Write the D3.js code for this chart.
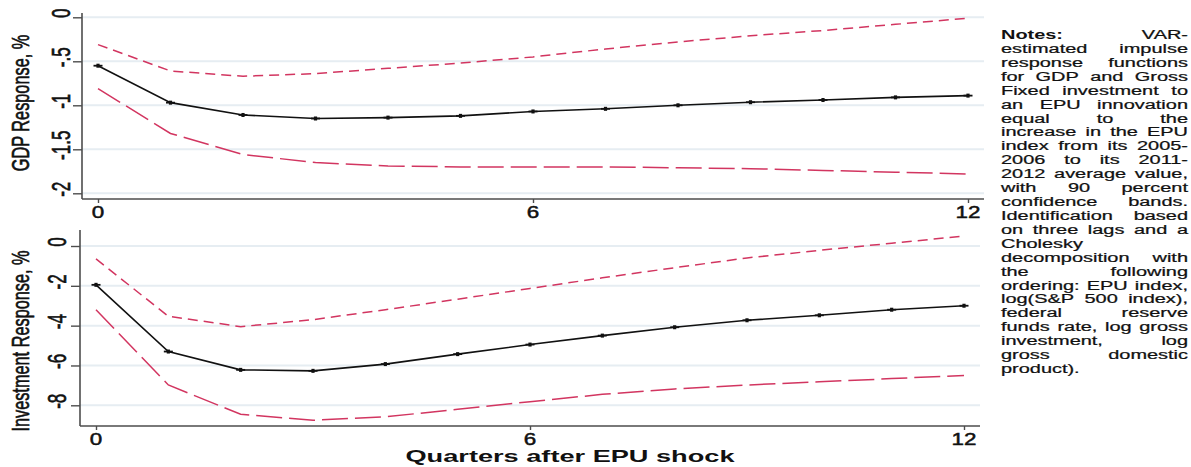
<!DOCTYPE html>
<html>
<head>
<meta charset="utf-8">
<script src="https://cdn.jsdelivr.net/npm/d3@7"></script>
<style>
  body { margin: 0; background: #fff; }
  svg { display: block; }
  text { font-family: "Liberation Sans", Arial, sans-serif; fill: #111; }
  .heavy { stroke: #111; stroke-width: 0.45; }
</style>
</head>
<body>
<svg id="chart" width="1191" height="467"></svg>
<script>
// Impulse responses to an EPU shock, quarters 0..12
const quarters = [0, 1, 2, 3, 4, 5, 6, 7, 8, 9, 10, 11, 12];

const gdpIrf   = [-0.55, -0.97, -1.11, -1.15, -1.14, -1.12, -1.07, -1.04, -1.00, -0.965, -0.94, -0.91, -0.89];
const gdpUpper = [-0.31, -0.61, -0.67, -0.64, -0.58, -0.52, -0.45, -0.36, -0.28, -0.21, -0.15, -0.08, -0.01];
const gdpLower = [-0.81, -1.32, -1.56, -1.65, -1.69, -1.70, -1.70, -1.70, -1.71, -1.72, -1.74, -1.76, -1.78];

const invIrf   = [-1.95, -5.30, -6.22, -6.27, -5.93, -5.43, -4.95, -4.50, -4.08, -3.73, -3.48, -3.20, -3.00];
const invUpper = [-0.65, -3.53, -4.05, -3.70, -3.20, -2.67, -2.13, -1.60, -1.09, -0.60, -0.22, 0.14, 0.50];
const invLower = [-3.20, -6.98, -8.45, -8.75, -8.58, -8.20, -7.82, -7.45, -7.18, -6.98, -6.82, -6.66, -6.50];

const xTickValues = [0, 6, 12];
const xTickLabels = ["0", "6", "12"];
const gdpTickValues = [0, -0.5, -1, -1.5, -2];
const gdpTickLabels = ["0", "-.5", "-1", "-1.5", "-2"];
const invTickValues = [0, -2, -4, -6, -8];
const invTickLabels = ["0", "-2", "-4", "-6", "-8"];

const gdpTitle = "GDP Response, %";
const invTitle = "Investment Response, %";
const xTitle = "Quarters after EPU shock";

const notesLines = [
  "Notes: VAR-",
  "estimated impulse",
  "response functions",
  "for GDP and Gross",
  "Fixed investment to",
  "an EPU innovation",
  "equal to the",
  "increase in the EPU",
  "index from its 2005-",
  "2006 to its 2011-",
  "2012 average value,",
  "with 90 percent",
  "confidence bands.",
  "Identification based",
  "on three lags and a",
  "Cholesky",
  "decomposition with",
  "the following",
  "ordering: EPU index,",
  "log(S&P 500 index),",
  "federal reserve",
  "funds rate, log gross",
  "investment, log",
  "gross domestic",
  "product)."
];

const svg = d3.select("#chart");
const BAND = "#d23560";
const GRID = "#e6edf2";
const AXIS = "#4d4d4d";
const STRETCH = 1.45;

function drawPanel(cfg) {
  const x = d3.scaleLinear().domain([0, 12]).range(cfg.xRange);
  const y = d3.scaleLinear().domain(cfg.yDomain).range(cfg.yRange);
  const g = svg.append("g");

  // horizontal grid
  g.append("g").selectAll("line").data(cfg.yTicks).join("line")
    .attr("x1", cfg.axisX).attr("x2", cfg.right)
    .attr("y1", d => y(d)).attr("y2", d => y(d))
    .attr("stroke", GRID).attr("stroke-width", 2);

  // left axis ticks
  const ya = g.append("g").attr("transform", `translate(${cfg.axisX},0)`)
    .call(d3.axisLeft(y).tickValues(cfg.yTicks).tickSize(9).tickSizeOuter(0).tickFormat(""));
  ya.select(".domain").remove();
  ya.selectAll(".tick line").attr("stroke", AXIS).attr("stroke-width", 1.4);

  // bottom axis ticks
  const xa = g.append("g").attr("transform", `translate(0,${cfg.axisY})`)
    .call(d3.axisBottom(x).tickValues(xTickValues).tickSize(4).tickSizeOuter(0).tickFormat(""));
  xa.select(".domain").remove();
  xa.selectAll(".tick line").attr("stroke", AXIS).attr("stroke-width", 1.4);

  // axis lines
  g.append("line").attr("x1", cfg.axisX).attr("x2", cfg.axisX)
    .attr("y1", cfg.axisTop).attr("y2", cfg.axisY)
    .attr("stroke", AXIS).attr("stroke-width", 1.6);
  g.append("line").attr("x1", cfg.axisX).attr("x2", cfg.right)
    .attr("y1", cfg.axisY).attr("y2", cfg.axisY)
    .attr("stroke", AXIS).attr("stroke-width", 1.6);

  // rotated y tick labels
  g.append("g").selectAll("text").data(cfg.yTicks).join("text")
    .attr("class", "heavy")
    .attr("transform", (d, i) => `translate(${cfg.labelX},${y(d) - 4}) scale(1.5,1) rotate(-90)`)
    .attr("text-anchor", "middle").attr("dy", "0.35em")
    .attr("font-size", 17)
    .text((d, i) => cfg.yLabels[i]);

  // x tick labels
  g.append("g").selectAll("text").data(xTickValues).join("text")
    .attr("class", "heavy")
    .attr("transform", d => `translate(${x(d)},${cfg.axisY + 19}) scale(1.4,1)`)
    .attr("text-anchor", "middle")
    .attr("font-size", 16)
    .text((d, i) => xTickLabels[i]);

  // y title
  g.append("text")
    .attr("class", "heavy")
    .attr("transform", `translate(${cfg.titleX},${cfg.titleY}) scale(${STRETCH},1) rotate(-90)`)
    .attr("text-anchor", "middle").attr("dy", "0.35em")
    .attr("font-size", 16.3)
    .text(cfg.title);

  const line = d3.line().x((d, i) => x(quarters[i])).y(d => y(d));

  g.append("path").datum(cfg.upper).attr("d", line)
    .attr("fill", "none").attr("stroke", BAND).attr("stroke-width", 1.5)
    .attr("stroke-dasharray", "10,6");
  g.append("path").datum(cfg.lower).attr("d", line)
    .attr("fill", "none").attr("stroke", BAND).attr("stroke-width", 1.5)
    .attr("stroke-dasharray", "26,7");
  g.append("path").datum(cfg.irf).attr("d", line)
    .attr("fill", "none").attr("stroke", "#111").attr("stroke-width", 1.6);

  // point markers on the response
  const m = g.append("g").selectAll("g").data(cfg.irf).join("g")
    .attr("transform", (d, i) => `translate(${x(quarters[i])},${y(d)})`);
  m.append("rect").attr("x", -4.5).attr("y", -0.9).attr("width", 9).attr("height", 1.8).attr("fill", "#111");
  m.append("rect").attr("x", -1.6).attr("y", -2).attr("width", 3.2).attr("height", 4).attr("fill", "#111");
}

drawPanel({
  xRange: [98, 968], yDomain: [-2, 0], yRange: [193.3, 17.3],
  axisX: 82, axisTop: 13, axisY: 199, right: 984,
  yTicks: gdpTickValues, yLabels: gdpTickLabels, labelX: 61,
  title: gdpTitle, titleX: 21, titleY: 103,
  irf: gdpIrf, upper: gdpUpper, lower: gdpLower
});

drawPanel({
  xRange: [96, 964], yDomain: [-8, 0], yRange: [405.3, 246],
  axisX: 80, axisTop: 230, axisY: 426, right: 980,
  yTicks: invTickValues, yLabels: invTickLabels, labelX: 57,
  title: invTitle, titleX: 21, titleY: 341,
  irf: invIrf, upper: invUpper, lower: invLower
});

// x axis title
svg.append("text")
  .attr("x", 570).attr("y", 462)
  .attr("text-anchor", "middle")
  .attr("font-size", 17).attr("font-weight", "bold")
  .attr("textLength", 329).attr("lengthAdjust", "spacingAndGlyphs")
  .text(xTitle);

// justified notes column
const NOTE_SCALE = 1.5;
const notesLeft = 1001, notesRight = 1188;
const colW = (notesRight - notesLeft) / NOTE_SCALE;
const notes = svg.append("g").attr("transform", `translate(${notesLeft},0) scale(${NOTE_SCALE},1)`);
notesLines.forEach((ln, li) => {
  const yy = 39 + li * 13.92;
  const words = ln.split(" ");
  const nodes = words.map((w, wi) => notes.append("text")
    .attr("y", yy).attr("font-size", 13.3)
    .attr("font-weight", li === 0 && wi === 0 ? "bold" : "normal")
    .attr("class", li === 0 && wi === 0 ? null : "heavy")
    .style("stroke-width", 0.25)
    .text(w));
  if (words.length === 1) { nodes[0].attr("x", 0); return; }
  const widths = nodes.map(n => n.node().getComputedTextLength());
  const total = d3.sum(widths);
  const gap = (colW - total) / (words.length - 1);
  let cx = 0;
  nodes.forEach((n, i) => { n.attr("x", cx); cx += widths[i] + gap; });
});
</script>
</body>
</html>
